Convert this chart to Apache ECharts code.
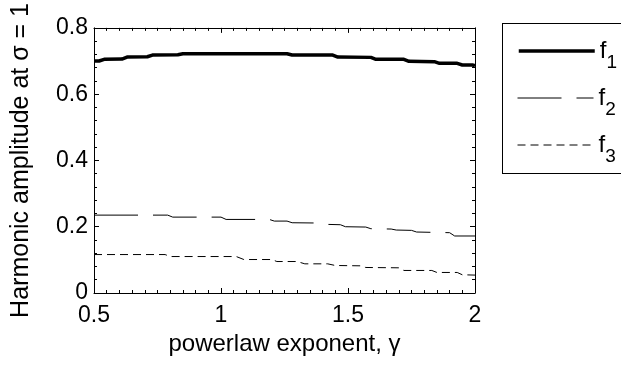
<!DOCTYPE html>
<html>
<head>
<meta charset="utf-8">
<script src="https://cdn.jsdelivr.net/npm/echarts@6/dist/echarts.min.js"></script>
<style>
html,body{margin:0;padding:0;background:#fff;overflow:hidden;}
#chart{width:621px;height:368px;}
</style>
</head>
<body>
<div id="chart"></div>
<script>
// Axis settings
const xRange = [0.5, 2];
const xStep = 0.5;
const yRange = [0, 0.8];
const yStep = 0.2;
const xTitle = 'powerlaw exponent, \u03B3';
const yTitle = 'Harmonic amplitude at \u03C3 = 1';
const seriesNames = ['f1', 'f2', 'f3'];

// f1 (thick solid)
const f1X = [0.5, 0.52, 0.54, 0.61, 0.63, 0.71, 0.73, 0.83, 0.85, 1.26, 1.28, 1.44, 1.46, 1.59, 1.61, 1.72, 1.74, 1.84, 1.86, 1.93, 1.95, 1.99, 2.0];
const f1Y = [0.700, 0.700, 0.705, 0.706, 0.712, 0.713, 0.718, 0.719, 0.722, 0.722, 0.718, 0.718, 0.712, 0.711, 0.705, 0.705, 0.699, 0.698, 0.693, 0.693, 0.688, 0.688, 0.686];
// f2 (long dash)
const f2X = [0.5, 0.79, 0.81, 1.0, 1.02, 1.19, 1.21, 1.26, 1.28, 1.40, 1.42, 1.47, 1.49, 1.57, 1.59, 1.67, 1.69, 1.75, 1.77, 1.90, 1.92, 2.0];
const f2Y = [0.235, 0.235, 0.229, 0.229, 0.222, 0.222, 0.217, 0.217, 0.212, 0.211, 0.207, 0.206, 0.200, 0.199, 0.194, 0.193, 0.190, 0.189, 0.184, 0.182, 0.172, 0.172];
// f3 (short dash)
const f3X = [0.5, 0.78, 0.80, 1.06, 1.09, 1.20, 1.22, 1.30, 1.33, 1.42, 1.45, 1.55, 1.57, 1.70, 1.72, 1.83, 1.85, 1.93, 1.95, 2.0];
const f3Y = [0.116, 0.116, 0.110, 0.110, 0.101, 0.101, 0.095, 0.095, 0.088, 0.088, 0.083, 0.082, 0.077, 0.076, 0.068, 0.068, 0.062, 0.062, 0.055, 0.054];

const FONT = '"Liberation Sans", Arial, Helvetica, sans-serif';
const zip = (xs, ys) => xs.map((x, i) => [x, ys[i]]);

const chart = echarts.init(document.getElementById('chart'), null, {renderer: 'canvas', width: 621, height: 368});

function makeX(pos, main) {
  return {
    type: 'value', position: pos, min: xRange[0], max: xRange[1], interval: xStep,
    axisLine: {show: true, onZero: false, lineStyle: {color: '#000', width: 1}},
    axisTick: {show: true, inside: true, length: 5, lineStyle: {color: '#000', width: 1}},
    minorTick: {show: true, splitNumber: 10, length: 3, lineStyle: {color: '#000', width: 1}},
    splitLine: {show: false},
    axisLabel: {show: main, margin: 11, color: '#000', fontSize: 23, fontFamily: FONT},
    name: main ? xTitle : '', nameLocation: 'middle', nameGap: 37,
    nameTextStyle: {color: '#000', fontSize: 24, fontFamily: FONT}
  };
}
function makeY(pos, main) {
  return {
    type: 'value', position: pos, min: yRange[0], max: yRange[1], interval: yStep,
    axisLine: {show: true, onZero: false, lineStyle: {color: '#000', width: 1}},
    axisTick: {show: true, inside: true, length: 5, lineStyle: {color: '#000', width: 1}},
    minorTick: {show: true, splitNumber: 5, length: 3, lineStyle: {color: '#000', width: 1}},
    splitLine: {show: false},
    axisLabel: {show: main, margin: 6, color: '#000', fontSize: 23, fontFamily: FONT},
    name: main ? yTitle : '', nameLocation: 'middle', nameGap: 60, nameRotate: 90,
    nameTextStyle: {color: '#000', fontSize: 25, fontFamily: FONT}
  };
}

const styles = [
  {width: 3.5, type: 'solid'},
  {width: 1, type: [44, 15]},
  {width: 1, type: [8, 5]}
];
const datas = [zip(f1X, f1Y), zip(f2X, f2Y), zip(f3X, f3Y)];
const legendTops = [39, 86, 133];

const rich = {
  f: {fontSize: 24, fontFamily: FONT, color: '#000', lineHeight: 24, verticalAlign: 'top'},
  s: {fontSize: 19, fontFamily: FONT, color: '#000', lineHeight: 19, verticalAlign: 'top', padding: [14, 0, 0, 0]}
};

const boxLine = (x1, y1, x2, y2) => ({
  type: 'line', z: 0, silent: true,
  shape: {x1: x1, y1: y1, x2: x2, y2: y2},
  style: {stroke: '#000', lineWidth: 1}
});

const option = {
  animation: false,
  backgroundColor: '#fff',
  grid: {left: 94, right: 146, top: 24, bottom: 75, containLabel: false},
  xAxis: [makeX('bottom', true), makeX('top', false)],
  yAxis: [makeY('left', true), makeY('right', false)],
  legend: seriesNames.map((n, i) => ({
    data: [n], left: 517, top: legendTops[i], orient: 'vertical', padding: 0,
    itemWidth: 76, itemHeight: 14, itemGap: 0, selectedMode: false,
    formatter: name => '{f|f}{s|' + name.slice(1) + '}',
    textStyle: {rich: rich, fontFamily: FONT},
    lineStyle: {color: '#000', width: styles[i].width, type: styles[i].type},
    itemStyle: {opacity: 0}
  })),
  graphic: [
    boxLine(502, 23.5, 640, 23.5),
    boxLine(502.5, 23.5, 502.5, 173.5),
    boxLine(502, 173.5, 640, 173.5)
  ],
  series: seriesNames.map((n, i) => ({
    name: n, type: 'line', xAxisIndex: 0, yAxisIndex: 0,
    symbol: 'none', showSymbol: false,
    data: datas[i],
    lineStyle: {color: '#000', width: styles[i].width, type: styles[i].type},
    itemStyle: {color: '#000'}
  }))
};
chart.setOption(option);
</script>
</body>
</html>
